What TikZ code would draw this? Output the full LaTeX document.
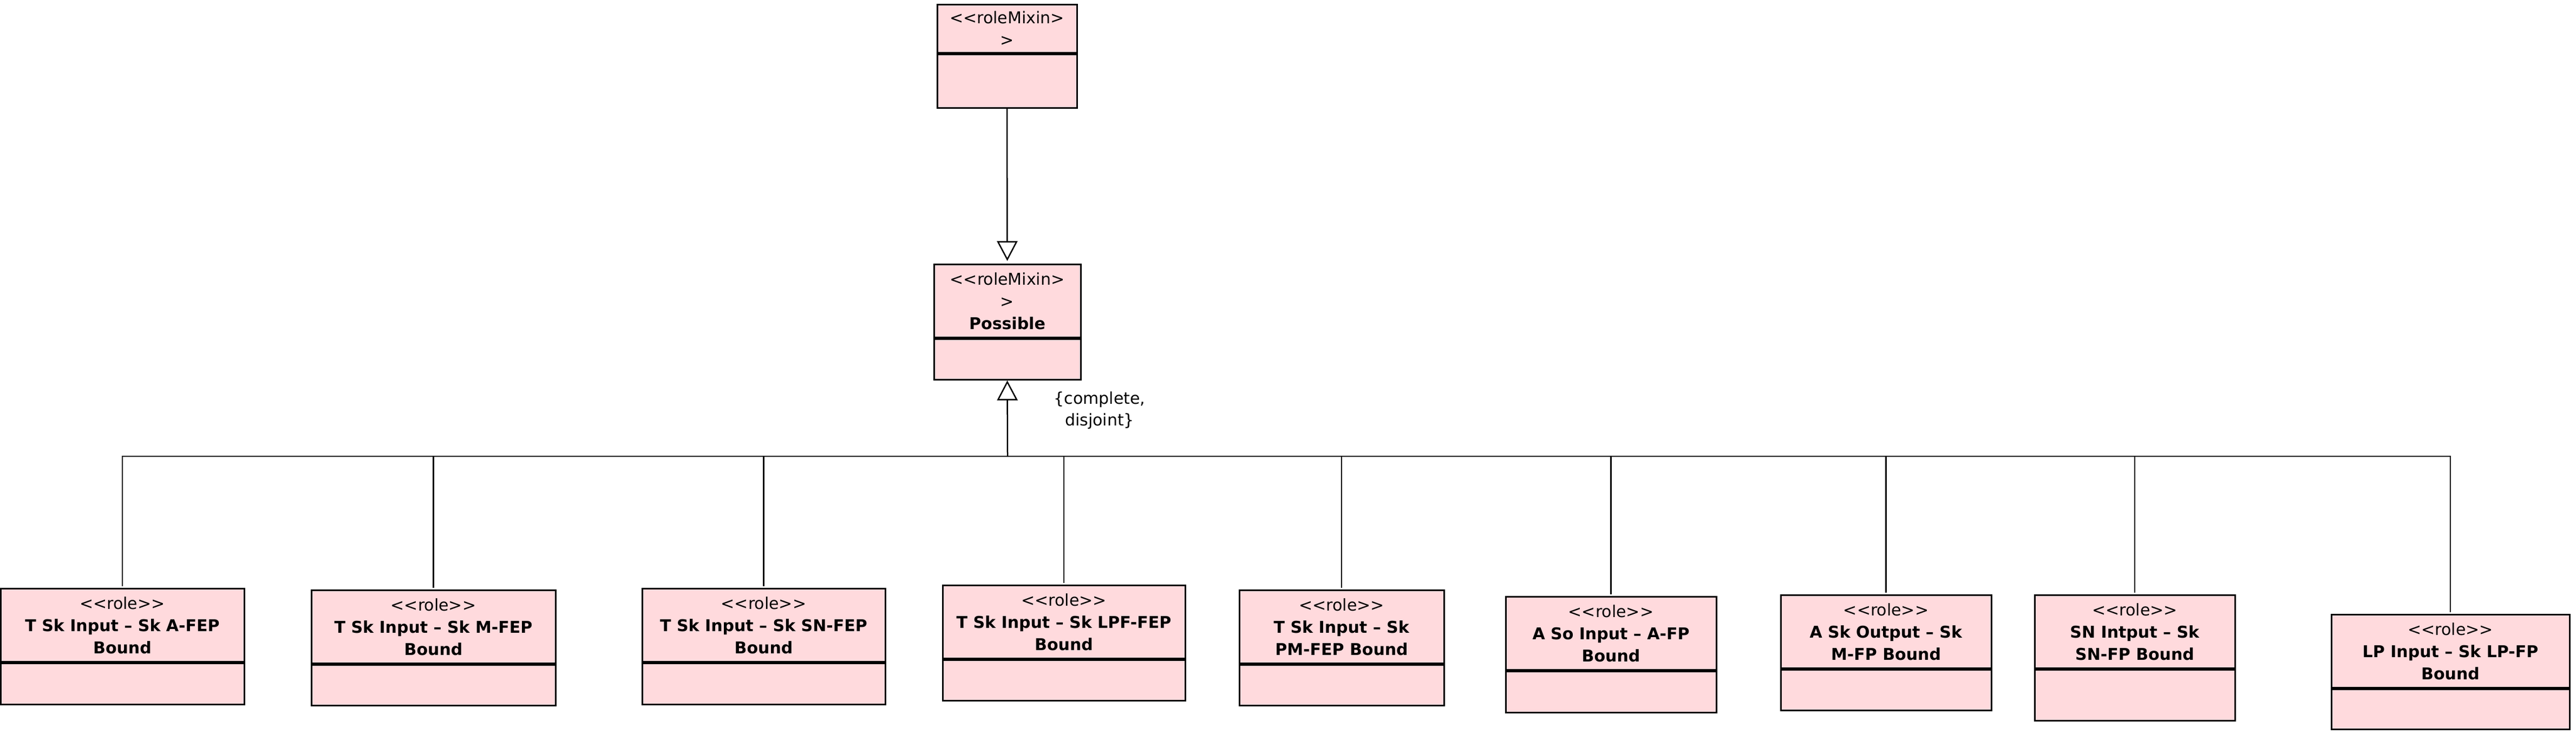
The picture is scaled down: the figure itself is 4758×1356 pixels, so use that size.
\documentclass[tikz,border=0pt]{standalone}
\usepackage{fontspec}
\setmainfont{DejaVu Sans}
\usetikzlibrary{arrows.meta}
\definecolor{rolepink}{RGB}{255,218,221}
\tikzset{
	classtop/.style={draw, line width=0.9pt, fill=rolepink, anchor=north, align=center, inner sep=0pt, font=\fontsize{9}{12.3}\selectfont},
	classbot/.style={draw, line width=0.9pt, fill=rolepink, anchor=north, inner sep=0pt},
	gen/.style={line width=0.75pt, -{Triangle[open,length=11pt,width=11.4pt]}},
	conn/.style={line width=0.75pt}
}
\begin{document}
\begin{tikzpicture}[x=0.3pt,y=-0.3pt]
		\useasboundingbox (0,0) rectangle (4758,1356);
		% role mixins
		\node[classtop, minimum width=77.4pt, minimum height=26.7pt] (mixin) at (1860,7) {<{}<roleMixin>\\>};
		\node[classbot, minimum width=77.4pt, minimum height=29.7pt] (mixinb) at (mixin.south) {};
		\node[classtop, minimum width=81.3pt, minimum height=40.5pt] (possible) at (1860.5,487) {<{}<roleMixin>\\>\\\textbf{Possible}};
		\node[classbot, minimum width=81.3pt, minimum height=22.5pt] (possibleb) at (possible.south) {};
		\draw[gen, shorten >=1.5pt] (mixinb.south) -- (possible.north);
		% roles
		\node[classtop, minimum width=135pt, minimum height=40.5pt] (r1) at (226,1086) {<{}<role>{}>\\\textbf{T Sk Input – Sk A-FEP}\\\textbf{Bound}};
		\node[classbot, minimum width=135pt, minimum height=22.8pt] (r1b) at (r1.south) {};
		\node[classtop, minimum width=135.3pt, minimum height=40.5pt] (r2) at (800.5,1089) {<{}<role>{}>\\\textbf{T Sk Input – Sk M-FEP}\\\textbf{Bound}};
		\node[classbot, minimum width=135.3pt, minimum height=22.5pt] (r2b) at (r2.south) {};
		\node[classtop, minimum width=134.7pt, minimum height=40.5pt] (r3) at (1410.5,1086) {<{}<role>{}>\\\textbf{T Sk Input – Sk SN-FEP}\\\textbf{Bound}};
		\node[classbot, minimum width=134.7pt, minimum height=22.8pt] (r3b) at (r3.south) {};
		\node[classtop, minimum width=134.4pt, minimum height=40.5pt] (r4) at (1965,1080) {<{}<role>{}>\\\textbf{T Sk Input – Sk LPF-FEP}\\\textbf{Bound}};
		\node[classbot, minimum width=134.4pt, minimum height=22.5pt] (r4b) at (r4.south) {};
		\node[classtop, minimum width=113.4pt, minimum height=40.5pt] (r5) at (2478,1089) {<{}<role>{}>\\\textbf{T Sk Input – Sk}\\\textbf{PM-FEP Bound}};
		\node[classbot, minimum width=113.4pt, minimum height=22.5pt] (r5b) at (r5.south) {};
		\node[classtop, minimum width=116.7pt, minimum height=40.5pt] (r6) at (2975.5,1101) {<{}<role>{}>\\\textbf{A So Input – A-FP}\\\textbf{Bound}};
		\node[classbot, minimum width=116.7pt, minimum height=22.8pt] (r6b) at (r6.south) {};
		\node[classtop, minimum width=116.7pt, minimum height=40.5pt] (r7) at (3483.5,1098) {<{}<role>{}>\\\textbf{A Sk Output – Sk}\\\textbf{M-FP Bound}};
		\node[classbot, minimum width=116.7pt, minimum height=22.5pt] (r7b) at (r7.south) {};
		\node[classtop, minimum width=111pt, minimum height=40.5pt] (r8) at (3943,1098) {<{}<role>{}>\\\textbf{SN Intput – Sk}\\\textbf{SN-FP Bound}};
		\node[classbot, minimum width=111pt, minimum height=28.2pt] (r8b) at (r8.south) {};
		\node[classtop, minimum width=132pt, minimum height=40.5pt] (r9) at (4526,1134) {<{}<role>{}>\\\textbf{LP Input – Sk LP-FP}\\\textbf{Bound}};
		\node[classbot, minimum width=132pt, minimum height=22.2pt] (r9b) at (r9.south) {};
		% generalization set
		\coordinate (junc) at (1861,843);
		\draw[gen] (junc) -- (possibleb.south);
		\foreach \k in {1,...,9}
			\draw[conn] (junc) -| ([yshift=1pt]r\k.north);
		\node[font=\fontsize{9}{12}\selectfont, align=center] (gset) at (2031,758) {\{complete,\\disjoint\}};
	\end{tikzpicture}
\end{document}
